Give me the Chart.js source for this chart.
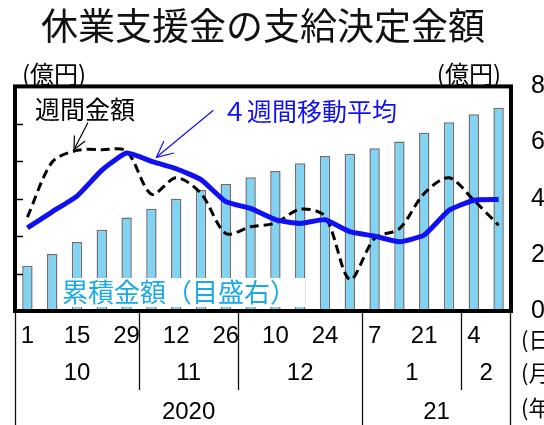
<!DOCTYPE html>
<html><head><meta charset="utf-8">
<script src="https://cdn.jsdelivr.net/npm/chart.js@4/dist/chart.umd.min.js"></script>
<style>html,body{margin:0;padding:0;background:#fff;overflow:hidden}#wrap{width:544px;height:425px}</style>
</head><body><div id="wrap"><canvas id="c" width="544" height="425"></canvas></div>
<script>
// ---- data ----
const categories = ['2020-10-01','2020-10-08','2020-10-15','2020-10-22','2020-10-29','2020-11-05','2020-11-12','2020-11-19','2020-11-26','2020-12-03','2020-12-10','2020-12-17','2020-12-24','2020-12-31','2021-01-07','2021-01-14','2021-01-21','2021-01-28','2021-02-04','2021-02-11'];
const dayLabels = ['1','8','15','22','29','5','12','19','26','3','10','17','24','31','7','14','21','28','4','11'];
const dayLabelEvery = 2;
const monthLabels = ['10','11','12','1','2'];
const monthStartIdx = [0,5,9,14,18];
const yearLabels = ['2020','21'];
const yearStartIdx = [0,14];
const rowUnitLabels = ['(日)','(月)','(年)'];
const cumulative = [161,203,246,289,333,364,400,431,452,476,499,526,552,560,580,604,635,672,701,724]; // 億円, right axis
const weekly = [25.1,39.8,42.9,43.1,42.7,31.2,35.6,31.4,20.7,22.5,23.5,27.2,25.3,8.4,19.4,22.0,31.4,35.6,29.6,22.9]; // 億円, left axis
const movingAvg4 = [22.2,26.5,30.7,37.6,42.2,40.0,38.0,35.1,29.2,27.4,24.4,23.4,24.4,21.2,20.0,18.5,20.3,26.9,29.6,29.8];
const leftMin = 0, leftMax = 60, leftStep = 10;
const rightMin = 0, rightMax = 800, rightStep = 200;
const titleText = '休業支援金の支給決定金額';
const unitText = '(億円)';
const labelWeekly = '週間金額';
const labelAvg = '４週間移動平均';
const labelCum = '累積金額（目盛右）';

const JP = '"Noto Sans CJK JP","Noto Sans CJK SC",sans-serif';
const hasNarrow = (()=>{const c=document.createElement('canvas').getContext('2d');
  c.font='100px monospace'; const w1=c.measureText('0123456789').width;
  c.font='100px "Liberation Sans Narrow", monospace'; return Math.abs(c.measureText('0123456789').width-w1)>0.5;})();
const NUMFAM = hasNarrow ? '"Liberation Sans Narrow",sans-serif' : '"Liberation Sans",sans-serif';
const NUMSIZE = hasNarrow ? 27 : 24;

function boundary(xs, i){
  const n = categories.length;
  const a = xs.chart.chartArea;
  if(i<=0) return a.left;
  if(i>=n) return a.right;
  return (xs.getPixelForValue(i-1)+xs.getPixelForValue(i))/2;
}

function arrow(ctx, tx, ty, fx, fy, head, color, w){
  ctx.save();
  ctx.strokeStyle=color; ctx.lineWidth=w;
  ctx.beginPath(); ctx.moveTo(fx,fy); ctx.lineTo(tx,ty); ctx.stroke();
  const ang=Math.atan2(fy-ty,fx-tx);
  const sp=0.45;
  ctx.beginPath();
  ctx.moveTo(tx+head*Math.cos(ang+sp), ty+head*Math.sin(ang+sp));
  ctx.lineTo(tx,ty);
  ctx.lineTo(tx+head*Math.cos(ang-sp), ty+head*Math.sin(ang-sp));
  ctx.stroke();
  ctx.restore();
}

const decor = {
  id:'decor',
  afterDatasetsDraw(chart){
    const ctx=chart.ctx, a=chart.chartArea, xs=chart.scales.x, yL=chart.scales.yL;
    ctx.save();
    ctx.fillStyle='#fff';
    ctx.fillRect(a.left+45, a.bottom-33, 245, 29);
    ctx.font='26px '+JP; ctx.fillStyle='#1aa9e6'; ctx.textBaseline='middle'; ctx.textAlign='left';
    ctx.fillText(labelCum, a.left+47, a.bottom-19);
    ctx.font='25px '+JP; ctx.fillStyle='#000';
    ctx.fillText(labelWeekly, a.left+20, a.top+23);
    ctx.fillStyle='#1010f5';
    ctx.fillText(labelAvg, a.left+207, a.top+25);
    const wx=xs.getPixelForValue(2), wy=yL.getPixelForValue(weekly[2]);
    arrow(ctx, wx-3, wy-1, wx+11, wy-28, 14, '#000', 1.2);
    const bx=xs.getPixelForValue(5), by=yL.getPixelForValue(movingAvg4[5]);
    arrow(ctx, bx+5, by-4, bx+62, by-51, 18, '#1010f5', 1.2);
    ctx.restore();
  },
  afterDraw(chart){
    const ctx=chart.ctx, a=chart.chartArea, xs=chart.scales.x, yL=chart.scales.yL;
    const H=chart.height;
    ctx.save();
    ctx.strokeStyle='#000'; ctx.lineWidth=1.5;
    yL.ticks.forEach(t=>{
      const y=Math.round(yL.getPixelForValue(t.value))+0.5;
      ctx.beginPath(); ctx.moveTo(a.left, y); ctx.lineTo(a.left+8, y); ctx.stroke();
    });
    ctx.lineWidth=4; ctx.strokeStyle='#000';
    ctx.strokeRect(a.left, a.top, a.right-a.left, a.bottom-a.top);
    ctx.font='24px '+JP; ctx.fillStyle='#000'; ctx.textBaseline='middle';
    ctx.textAlign='left'; ctx.fillText(unitText, a.left+7, a.top-13);
    ctx.textAlign='right'; ctx.fillText(unitText, a.right-10, a.top-13);
    ctx.lineWidth=1.3; ctx.strokeStyle='#111';
    const monthBottom = a.bottom+79;
    const vline=(x,y0,y1)=>{ctx.beginPath();ctx.moveTo(Math.round(x)+0.5,y0);ctx.lineTo(Math.round(x)+0.5,y1);ctx.stroke();};
    vline(a.left, a.bottom, H);
    vline(a.right-1, a.bottom, H);
    monthStartIdx.forEach(i=>{ if(i>0){ const bx=boundary(xs,i); vline(bx, a.bottom, yearStartIdx.includes(i)?H:monthBottom);} });
    ctx.font=NUMSIZE+'px '+NUMFAM; ctx.textAlign='center'; ctx.fillStyle='#000';
    monthLabels.forEach((m,k)=>{
      const s=boundary(xs,monthStartIdx[k]);
      const e=boundary(xs,k+1<monthStartIdx.length?monthStartIdx[k+1]:categories.length);
      ctx.fillText(m,(s+e)/2,a.bottom+62);
    });
    yearLabels.forEach((yv,k)=>{
      const s=boundary(xs,yearStartIdx[k]);
      const e=boundary(xs,k+1<yearStartIdx.length?yearStartIdx[k+1]:categories.length);
      ctx.fillText(yv,(s+e)/2,a.bottom+101);
    });
    ctx.font='22px '+JP; ctx.textAlign='left';
    const ry=[a.bottom+29, a.bottom+62, a.bottom+97];
    rowUnitLabels.forEach((t,k)=>ctx.fillText(t, a.right+10, ry[k]));
    ctx.restore();
  }
};

new Chart(document.getElementById('c'), {
  type:'bar',
  data:{
    labels: categories,
    datasets:[
      {type:'line', label:labelAvg, data:movingAvg4, yAxisID:'yL', borderColor:'#1010f5', borderWidth:5, pointRadius:0, tension:0.15, order:1, borderJoinStyle:'round'},
      {type:'line', label:labelWeekly, data:weekly, yAxisID:'yL', borderColor:'#000', borderWidth:3, borderDash:[9,5], pointRadius:0, tension:0.3, order:2},
      {type:'bar', label:labelCum, data:cumulative, yAxisID:'yR', backgroundColor:'#80d3f3', borderColor:'#6f6f6f', borderWidth:1.5, barPercentage:0.42, categoryPercentage:1, order:3}
    ]
  },
  options:{
    responsive:false, animation:false, devicePixelRatio:1,
    layout:{padding:0},
    plugins:{
      legend:{display:false}, tooltip:{enabled:false},
      title:{display:true, text:titleText, fullSize:false, align:'center', color:'#111',
        font:{family:JP, size:37, weight:'normal'}, padding:{top:4, bottom:38}}
    },
    scales:{
      x:{position:'bottom', grid:{display:false}, border:{display:false},
        ticks:{autoSkip:false, maxRotation:0, color:'#000', padding:3,
          font:{family:NUMFAM, size:NUMSIZE},
          callback:(v,i)=> (i%dayLabelEvery===0 ? dayLabels[i] : '')},
        afterFit:s=>{s.height=425-311;}},
      yL:{position:'left', min:leftMin, max:leftMax, grid:{display:false}, border:{display:false},
        ticks:{display:false, stepSize:leftStep}, afterFit:s=>{s.width=15;}},
      yR:{position:'right', min:rightMin, max:rightMax, grid:{display:false, drawTicks:false}, border:{display:false},
        ticks:{stepSize:rightStep, color:'#000', padding:20, font:{family:NUMFAM, size:NUMSIZE+1}},
        afterFit:s=>{s.width=33;}}
    }
  },
  plugins:[decor]
});
</script></body></html>
